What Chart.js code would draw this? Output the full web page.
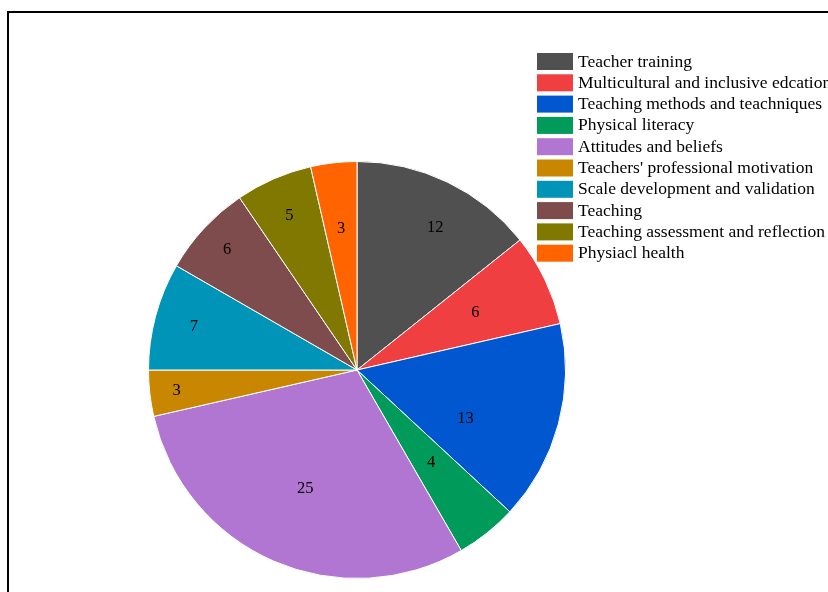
<!DOCTYPE html>
<html>
<head>
<meta charset="utf-8">
<script src="https://cdn.jsdelivr.net/npm/chart.js@4"></script>
<style>
  html, body { margin: 0; padding: 0; background: #fff; }
  #wrap { width: 828px; height: 592px; position: relative; }
</style>
</head>
<body>
<div id="wrap"><canvas id="pieChart"></canvas></div>
<script>
const topics = [
  'Teacher training',
  'Multicultural and inclusive edcation',
  'Teaching methods and teachniques',
  'Physical literacy',
  'Attitudes and beliefs',
  "Teachers' professional motivation",
  'Scale development and validation',
  'Teaching',
  'Teaching assessment and reflection',
  'Physiacl health'
];
const counts = [12, 6, 13, 4, 25, 3, 7, 6, 5, 3];
const sliceColors = [
  '#505050', '#f03f40', '#0057cf', '#009a5a', '#b076d2',
  '#c98600', '#0094b8', '#7e4c4c', '#807800', '#ff6400'
];

const serif = '"Liberation Serif", "Times New Roman", serif';

// outer frame, slice numbers and the legend block on the right
const decorations = {
  id: 'decorations',
  afterDraw(chart, args, opts) {
    const ctx = chart.ctx;
    const meta = chart.getDatasetMeta(0);
    ctx.save();

    ctx.strokeStyle = '#000';
    ctx.lineWidth = 2;
    ctx.strokeRect(8, 12, 900, 700);

    ctx.fillStyle = '#000';
    ctx.font = '16.5px ' + serif;
    ctx.textAlign = 'center';
    ctx.textBaseline = 'middle';
    meta.data.forEach((arc, i) => {
      const p = arc.getProps(['x', 'y', 'startAngle', 'endAngle', 'outerRadius']);
      const mid = (p.startAngle + p.endAngle) / 2 + opts.labelTurn[i] * Math.PI / 180;
      const r = p.outerRadius * opts.labelRadius[i];
      ctx.fillText(String(counts[i]), p.x + Math.cos(mid) * r, p.y + Math.sin(mid) * r);
    });

    ctx.font = '17.5px ' + serif;
    ctx.textAlign = 'left';
    topics.forEach((t, i) => {
      const y = 53 + i * 21.3;
      ctx.fillStyle = sliceColors[i];
      ctx.fillRect(537, y, 36, 17);
      ctx.fillStyle = '#000';
      ctx.fillText(t, 578, y + 9);
    });
    ctx.restore();
  }
};

new Chart(document.getElementById('pieChart'), {
  type: 'pie',
  data: {
    labels: topics,
    datasets: [{
      data: counts,
      backgroundColor: sliceColors,
      borderColor: '#ffffff',
      borderWidth: 1
    }]
  },
  options: {
    responsive: true,
    maintainAspectRatio: false,
    animation: false,
    layout: { padding: { left: 148, right: 262, top: 161, bottom: 13 } },
    plugins: {
      legend: { display: false },
      tooltip: { enabled: false },
      decorations: {
        labelRadius: [0.78, 0.63, 0.57, 0.57, 0.62, 0.87, 0.81, 0.85, 0.81, 0.68],
        labelTurn: [3, 0, 9, 0, 0, 0, 0, 0, 0, 0]
      }
    }
  },
  plugins: [decorations]
});
</script>
</body>
</html>
